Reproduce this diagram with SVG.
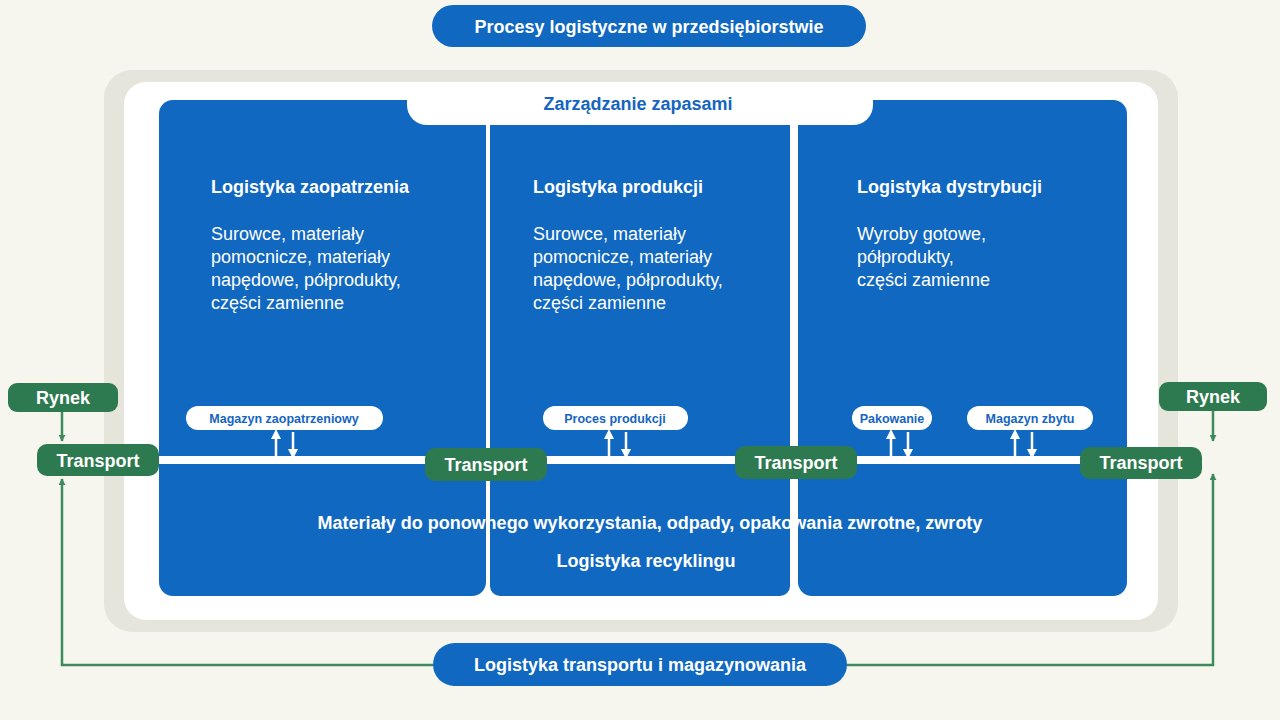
<svg xmlns="http://www.w3.org/2000/svg" width="1280" height="720" viewBox="0 0 1280 720">
<style>
text{font-family:"Liberation Sans",Arial,sans-serif}
.h{font-size:18px;font-weight:bold;fill:#fff}
.b{font-size:18px;fill:#fff}
.g{fill:#2e7a50}
.gt{font-size:18px;font-weight:bold;fill:#fff;text-anchor:middle}
.pl{fill:#fff}
.pt{font-size:12.5px;font-weight:bold;fill:#1565c0;text-anchor:middle}
.wl{stroke:#fff;stroke-width:2.5;fill:none}
.gl{stroke:#3d8a5c;stroke-width:2.5;fill:none}
</style>
<defs>
<marker id="wa" viewBox="0 0 10 10" refX="5" refY="5" markerWidth="4" markerHeight="4" orient="auto"><path d="M0,0L10,5L0,10z" fill="#fff"/></marker>
<marker id="ga" viewBox="0 0 10 10" refX="9" refY="5" markerWidth="7" markerHeight="7" markerUnits="userSpaceOnUse" orient="auto"><path d="M0,0L10,5L0,10z" fill="#3d8a5c"/></marker>
<marker id="gb" viewBox="0 0 10 10" refX="9" refY="5" markerWidth="6" markerHeight="6" orient="auto"><path d="M0,0L10,5L0,10z" fill="#3d8a5c"/></marker>
</defs>
<rect width="1280" height="720" fill="#f7f6ee"/>
<rect x="104" y="70" width="1074" height="562" rx="28" fill="#e6e5dc"/>
<rect x="124" y="82" width="1034" height="538" rx="22" fill="#fff"/>
<g id="panels">
<rect x="159" y="100" width="327" height="496" rx="14" fill="#1068c0"/>
<rect x="490" y="100" width="300" height="496" rx="10" fill="#1068c0"/>
<rect x="798" y="100" width="329" height="496" rx="14" fill="#1068c0"/>
<rect x="480" y="100" width="20" height="20" fill="#1068c0"/>
<rect x="780" y="100" width="30" height="20" fill="#1068c0"/>
<rect x="486" y="100" width="4" height="496" fill="#fff"/>
<rect x="790" y="100" width="8" height="496" fill="#fff"/>
</g>
<g id="title"><rect x="432" y="5" width="434" height="42" rx="21" fill="#1068c0"/><text x="649" y="33" class="gt">Procesy logistyczne w przedsiębiorstwie</text></g>
<g id="zapasy"><path d="M407,85H873V105A20,20 0 0 1 853,125H427A20,20 0 0 1 407,105Z" fill="#fff"/><text x="638" y="110" text-anchor="middle" style="font-size:18px;font-weight:bold;fill:#1565c0">Zarządzanie zapasami</text></g>
<g id="p1"><text x="211" y="193" class="h">Logistyka zaopatrzenia</text>
<text class="b" x="211" y="240">Surowce, materiały</text><text class="b" x="211" y="263">pomocnicze, materiały</text><text class="b" x="211" y="286">napędowe, półprodukty,</text><text class="b" x="211" y="309">części zamienne</text></g>
<g id="p2"><text x="533" y="193" class="h">Logistyka produkcji</text>
<text class="b" x="533" y="240">Surowce, materiały</text><text class="b" x="533" y="263">pomocnicze, materiały</text><text class="b" x="533" y="286">napędowe, półprodukty,</text><text class="b" x="533" y="309">części zamienne</text></g>
<g id="p3"><text x="857" y="193" class="h">Logistyka dystrybucji</text>
<text class="b" x="857" y="240">Wyroby gotowe,</text><text class="b" x="857" y="263">półprodukty,</text><text class="b" x="857" y="286">części zamienne</text></g>
<g id="connectors">
<rect x="159" y="456" width="930" height="8" fill="#fff"/>
<path class="wl" d="M276,456V434" marker-end="url(#wa)"/><path class="wl" d="M293,432V454" marker-end="url(#wa)"/>
<path class="wl" d="M609,456V434" marker-end="url(#wa)"/><path class="wl" d="M626,432V454" marker-end="url(#wa)"/>
<path class="wl" d="M891,456V434" marker-end="url(#wa)"/><path class="wl" d="M908,432V454" marker-end="url(#wa)"/>
<path class="wl" d="M1015,456V434" marker-end="url(#wa)"/><path class="wl" d="M1032,432V454" marker-end="url(#wa)"/>
<path class="gl" d="M62,412V441" marker-end="url(#ga)"/>
<path class="gl" d="M1213,411V441" marker-end="url(#ga)"/>
<path class="gl" d="M433,665H62V479" marker-end="url(#ga)"/>
<path class="gl" d="M847,665H1213V474" marker-end="url(#ga)"/>
</g>
<g id="s1"><rect x="186" y="406" width="197" height="24" rx="12" class="pl"/><text x="284" y="423" class="pt">Magazyn zaopatrzeniowy</text></g>
<g id="s2"><rect x="543" y="406" width="145" height="24" rx="12" class="pl"/><text x="615" y="423" class="pt">Proces produkcji</text></g>
<g id="s3"><rect x="852" y="406" width="80" height="24" rx="12" class="pl"/><text x="892" y="423" class="pt">Pakowanie</text></g>
<g id="s4"><rect x="967" y="406" width="126" height="24" rx="12" class="pl"/><text x="1030" y="423" class="pt">Magazyn zbytu</text></g>
<g id="rynek1"><rect x="8" y="383" width="110" height="29" rx="9" class="g"/><text x="63" y="404" class="gt">Rynek</text></g>
<g id="rynek2"><rect x="1159" y="382" width="108" height="29" rx="9" class="g"/><text x="1213" y="403" class="gt">Rynek</text></g>
<g id="t1"><rect x="37" y="444" width="122" height="32" rx="10" class="g"/><text x="98" y="467" class="gt">Transport</text></g>
<g id="t2"><rect x="425" y="448" width="122" height="33" rx="10" class="g"/><text x="486" y="471" class="gt">Transport</text></g>
<g id="t3"><rect x="735" y="446" width="122" height="33" rx="10" class="g"/><text x="796" y="469" class="gt">Transport</text></g>
<g id="t4"><rect x="1080" y="447" width="122" height="32" rx="10" class="g"/><text x="1141" y="469" class="gt">Transport</text></g>
<text x="650" y="529" class="gt">Materiały do ponownego wykorzystania, odpady, opakowania zwrotne, zwroty</text>
<text x="646" y="567" class="gt">Logistyka recyklingu</text>
<g id="bottom"><rect x="433" y="643" width="414" height="43" rx="21.5" fill="#1068c0"/><text x="640" y="671" class="gt">Logistyka transportu i magazynowania</text></g>
</svg>
